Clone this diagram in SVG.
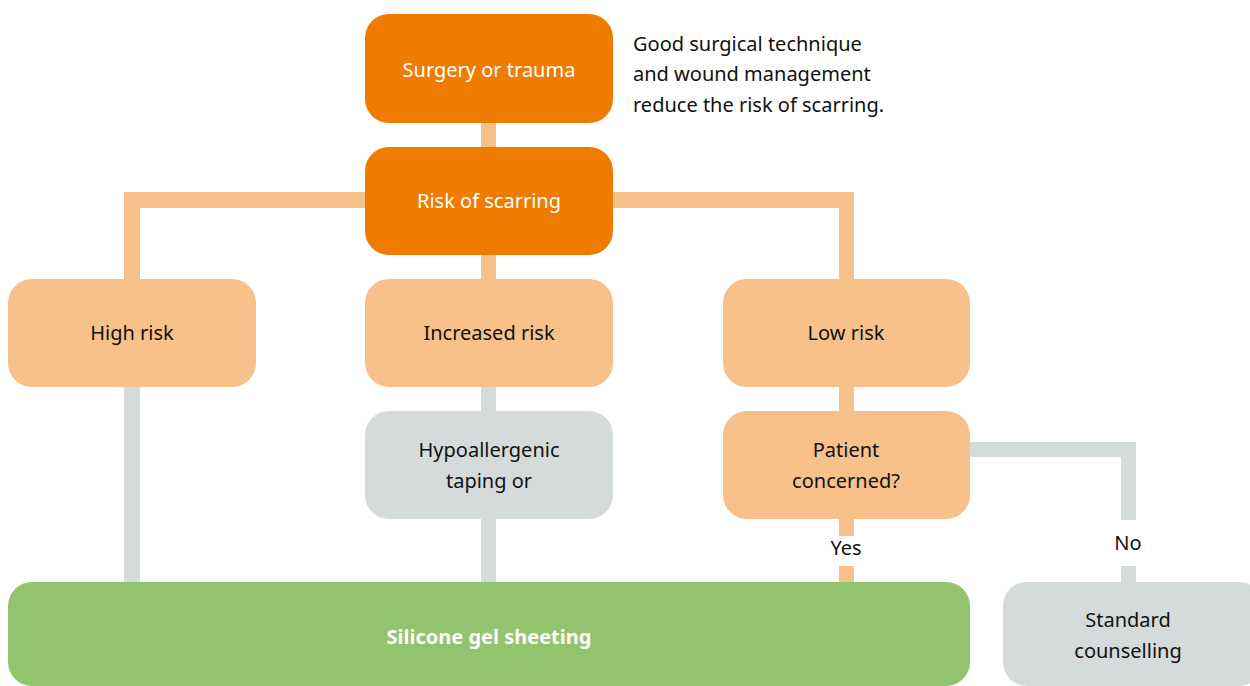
<svg xmlns="http://www.w3.org/2000/svg" width="1250" height="686" viewBox="0 0 1250 686">
<style>
text{font-family:"Noto Sans","Liberation Sans",sans-serif;font-size:20px;text-anchor:middle;fill:#111}
.w{fill:#fff}
.b{font-weight:bold}
.note{text-anchor:start}
.dk{fill:#EF7B00}
.lt{fill:#F8C08A}
.gy{fill:#D5DADA}
.gn{fill:#92C46E}
</style>
<rect width="1250" height="686" fill="#fff"/>
<g id="connectors">
<rect class="lt" x="481" y="120" width="15" height="30"/>
<rect class="lt" x="124" y="192" width="245" height="16"/>
<rect class="lt" x="124" y="192" width="16" height="90"/>
<rect class="lt" x="610" y="192" width="244" height="16"/>
<rect class="lt" x="839" y="192" width="15" height="90"/>
<rect class="lt" x="481" y="252" width="15" height="30"/>
<rect class="gy" x="124" y="384" width="16" height="200"/>
<rect class="gy" x="481" y="384" width="15" height="30"/>
<rect class="gy" x="481" y="516" width="15" height="68"/>
<rect class="lt" x="839" y="384" width="15" height="30"/>
<rect class="lt" x="839" y="516" width="15" height="20"/>
<rect class="lt" x="839" y="566" width="15" height="18"/>
<rect class="gy" x="967" y="442" width="169" height="15"/>
<rect class="gy" x="1121" y="442" width="15" height="78"/>
<rect class="gy" x="1121" y="566" width="15" height="18"/>
<text x="846" y="555">Yes</text>
<text x="1128" y="550">No</text>
</g>
<g id="surgery">
<rect class="dk" x="365" y="14" width="248" height="109" rx="24"/>
<text class="w" x="489" y="77">Surgery or trauma</text>
</g>
<g id="note">
<text class="note" x="633" y="51">Good surgical technique</text>
<text class="note" x="633" y="81">and wound management</text>
<text class="note" x="633" y="112">reduce the risk of scarring.</text>
</g>
<g id="risk">
<rect class="dk" x="365" y="147" width="248" height="108" rx="24"/>
<text class="w" x="489" y="208">Risk of scarring</text>
</g>
<g id="high">
<rect class="lt" x="8" y="279" width="248" height="108" rx="24"/>
<text x="132" y="340">High risk</text>
</g>
<g id="increased">
<rect class="lt" x="365" y="279" width="248" height="108" rx="24"/>
<text x="489" y="340">Increased risk</text>
</g>
<g id="low">
<rect class="lt" x="723" y="279" width="247" height="108" rx="24"/>
<text x="846" y="340">Low risk</text>
</g>
<g id="hypo">
<rect class="gy" x="365" y="411" width="248" height="108" rx="24"/>
<text x="489" y="457">Hypoallergenic</text>
<text x="489" y="488">taping or</text>
</g>
<g id="patient">
<rect class="lt" x="723" y="411" width="247" height="108" rx="24"/>
<text x="846" y="457">Patient</text>
<text x="846" y="488">concerned?</text>
</g>
<g id="silicone">
<rect class="gn" x="8" y="582" width="962" height="104" rx="24"/>
<text class="w b" x="489" y="644">Silicone gel sheeting</text>
</g>
<g id="standard">
<rect class="gy" x="1003" y="582" width="260" height="104" rx="24"/>
<text x="1128" y="627">Standard</text>
<text x="1128" y="658">counselling</text>
</g>
</svg>
